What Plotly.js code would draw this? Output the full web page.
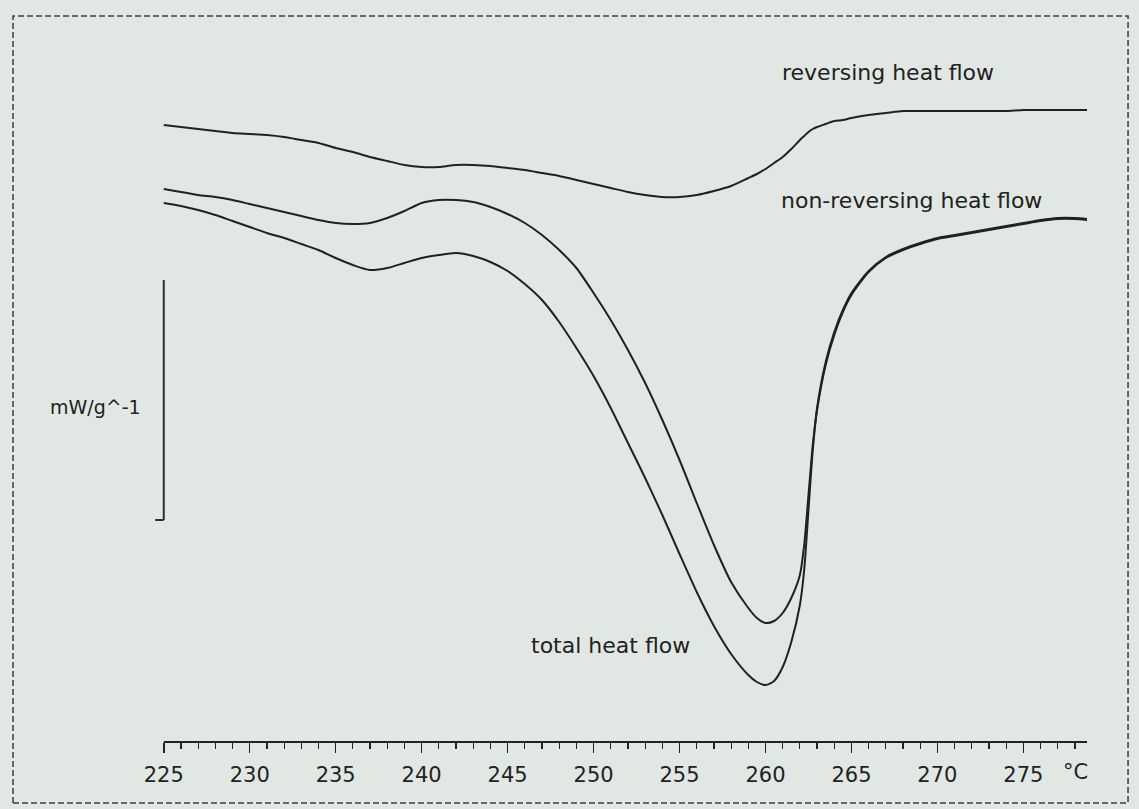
<!DOCTYPE html>
<html>
<head>
<meta charset="utf-8">
<script src="https://cdn.plot.ly/plotly-3.0.1.min.js"></script>
<style>
  html, body { margin: 0; padding: 0; background: #e1e7e2; }
  #chart { width: 1139px; height: 809px; }
</style>
</head>
<body>
<div id="chart"></div>
<script>
// Modulated DSC scan: temperature (°C) and heat flow (mW/g), endotherm down
const temperature = [
  225, 226, 227, 228, 229, 230, 231, 232, 233, 234,
  235, 236, 237, 238, 239, 240, 241, 242, 243, 244,
  245, 246, 247, 248, 249, 250, 251, 252, 253, 254,
  255, 256, 257, 258, 259, 259.5, 260, 260.5, 261, 261.5,
  262, 262.25, 262.5, 262.75, 263, 263.5, 264, 264.5, 265, 266,
  267, 268, 269, 270, 271, 272, 273, 274, 275, 276,
  277, 278, 278.7
];

const reversingHeatFlow = [
  -0.015, -0.017, -0.019, -0.021, -0.023, -0.024, -0.025, -0.027, -0.030, -0.033,
  -0.038, -0.042, -0.047, -0.051, -0.055, -0.057, -0.057, -0.055, -0.055, -0.056,
  -0.058, -0.060, -0.063, -0.066, -0.070, -0.074, -0.078, -0.082, -0.085, -0.087,
  -0.087, -0.085, -0.081, -0.076, -0.068, -0.064, -0.059, -0.053, -0.047, -0.039,
  -0.030, -0.026, -0.022, -0.019, -0.017, -0.014, -0.011, -0.010, -0.008, -0.005,
  -0.003, -0.001, -0.001, -0.001, -0.001, -0.001, -0.001, -0.001, 0.000, 0.000,
  0.000, 0.000, 0.000
];

const nonReversingHeatFlow = [
  -0.079, -0.082, -0.085, -0.087, -0.090, -0.094, -0.098, -0.102, -0.106, -0.110,
  -0.113, -0.114, -0.113, -0.108, -0.101, -0.093, -0.090, -0.090, -0.092, -0.097,
  -0.104, -0.113, -0.125, -0.140, -0.158, -0.183, -0.210, -0.240, -0.273, -0.310,
  -0.350, -0.393, -0.435, -0.472, -0.498, -0.508, -0.513, -0.511, -0.503, -0.488,
  -0.465, -0.435, -0.385, -0.335, -0.300, -0.255, -0.225, -0.202, -0.185, -0.162,
  -0.148, -0.140, -0.134, -0.129, -0.126, -0.123, -0.120, -0.117, -0.114, -0.111,
  -0.109, -0.109, -0.110
];

const totalHeatFlow = [
  -0.093, -0.096, -0.100, -0.105, -0.111, -0.117, -0.123, -0.128, -0.134, -0.140,
  -0.148, -0.155, -0.160, -0.158, -0.153, -0.148, -0.145, -0.143, -0.146, -0.152,
  -0.161, -0.174, -0.190, -0.212, -0.238, -0.266, -0.298, -0.333, -0.368, -0.405,
  -0.444, -0.482, -0.516, -0.544, -0.565, -0.572, -0.575, -0.571, -0.557, -0.532,
  -0.495, -0.460, -0.400, -0.340, -0.298, -0.252, -0.222, -0.200, -0.183, -0.161,
  -0.147, -0.139, -0.133, -0.128, -0.125, -0.122, -0.119, -0.116, -0.113, -0.110,
  -0.108, -0.108, -0.109
];

// Curve captions
const curveLabels = ['reversing heat flow', 'non-reversing heat flow', 'total heat flow'];
const unitLabel = 'mW/g^-1';
const tempUnit = '°C';

// Axis extent and vertical scale bar (mW/g)
const tempStart = 225, tempEnd = 278.7;
const scaleBarTop = -0.170, scaleBarBottom = -0.410;

const ink = '#1d2322';
const fontFamily = 'DejaVu Sans, Verdana, sans-serif';
const textFont = { family: fontFamily, size: 22, color: '#222' };

const lineStyle = { color: ink, width: 2, shape: 'spline', smoothing: 0.7 };

const traces = [reversingHeatFlow, nonReversingHeatFlow, totalHeatFlow].map((ys, i) => ({
  x: temperature,
  y: ys,
  type: 'scatter',
  mode: 'lines',
  name: curveLabels[i],
  line: lineStyle,
  hoverinfo: 'skip'
}));

const layout = {
  width: 1139,
  height: 809,
  margin: { l: 150, r: 52, t: 20, b: 67 },
  paper_bgcolor: '#e1e7e2',
  plot_bgcolor: '#e1e7e2',
  showlegend: false,
  xaxis: {
    range: [224.2, tempEnd],
    showline: false,
    zeroline: false,
    showgrid: false,
    ticks: 'outside',
    tick0: 225,
    dtick: 5,
    ticklen: 10,
    tickwidth: 1.5,
    tickcolor: '#222',
    ticklabelstandoff: 4,
    tickfont: { family: fontFamily, size: 21, color: '#222' },
    minor: { dtick: 1, tick0: 225, ticks: 'outside', ticklen: 6, tickwidth: 1.2, tickcolor: '#222', showgrid: false }
  },
  yaxis: {
    range: [-0.632, 0.090],
    visible: false,
    showgrid: false,
    zeroline: false
  },
  shapes: [
    // temperature axis line
    { type: 'line', xref: 'x', yref: 'paper', x0: tempStart, x1: tempEnd, y0: 0, y1: 0,
      line: { color: '#222', width: 2 } },
    // vertical heat-flow scale bar with foot
    { type: 'line', xref: 'x', yref: 'y', x0: tempStart, x1: tempStart, y0: scaleBarTop, y1: scaleBarBottom,
      line: { color: '#2a302f', width: 2 } },
    { type: 'line', xref: 'x', yref: 'y', x0: tempStart - 0.5, x1: tempStart, y0: scaleBarBottom, y1: scaleBarBottom,
      line: { color: '#2a302f', width: 2 } },
    // dashed frame
    { type: 'rect', xref: 'paper', yref: 'paper', x0: -0.1462, x1: 1.0438, y0: -0.0845, y1: 1.0055,
      line: { color: '#3a3f45', width: 1.5, dash: '6px,3px' }, fillcolor: 'rgba(0,0,0,0)' }
  ],
  annotations: [
    { x: 267.1, y: 0.038, xref: 'x', yref: 'y', text: curveLabels[0], showarrow: false, font: textFont },
    { x: 268.5, y: -0.090, xref: 'x', yref: 'y', text: curveLabels[1], showarrow: false, font: textFont },
    { x: 251.0, y: -0.535, xref: 'x', yref: 'y', text: curveLabels[2], showarrow: false, font: textFont },
    { x: -0.0075, y: -0.297, xref: 'paper', yref: 'y', xanchor: 'right', text: unitLabel, showarrow: false,
      font: { family: fontFamily, size: 19, color: '#222' } },
    { x: 278.05, y: 0, xref: 'x', yref: 'paper', yanchor: 'top', yshift: -16, text: tempUnit,
      showarrow: false, font: { family: fontFamily, size: 21, color: '#222' } }
  ]
};

Plotly.newPlot('chart', traces, layout, { displayModeBar: false, staticPlot: true });
</script>
</body>
</html>
